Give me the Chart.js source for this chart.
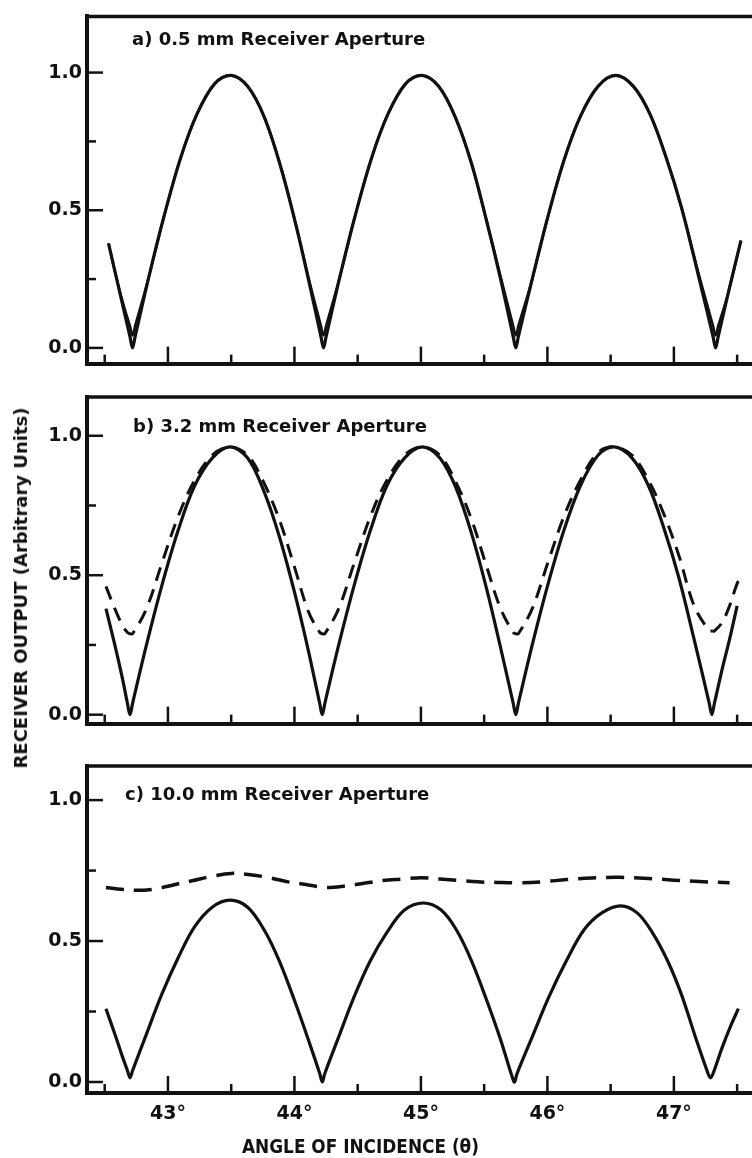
<!DOCTYPE html>
<html>
<head>
<meta charset="utf-8">
<title>Receiver output vs angle of incidence</title>
<script src="https://cdn.jsdelivr.net/npm/chart.js@4.4.1/dist/chart.umd.min.js"></script>
<style>
  html, body { margin: 0; padding: 0; background: #fff; overflow: hidden; }
  #page {
    position: relative; width: 752px; height: 1158px; overflow: hidden;
    font-family: 'DejaVu Sans', sans-serif; font-weight: bold; color: #111;
  }
  #page canvas { position: absolute; left: 0; }
  .caption { position: absolute; font-size: 18px; line-height: 18px; white-space: nowrap; }
  #ytitle {
    position: absolute; left: 21px; top: 588px; font-size: 18px; line-height: 18px;
    white-space: nowrap; transform: translate(-50%, -50%) rotate(-90deg);
  }
  #xtitle {
    position: absolute; left: 242px; top: 1137px; font-size: 19px; line-height: 19px;
    white-space: nowrap; transform: scaleX(0.89); transform-origin: left center;
  }
</style>
</head>
<body>
<div id="page">
  <canvas id="panelA" width="770" height="380" style="top:0px"></canvas>
  <canvas id="panelB" width="770" height="360" style="top:380px"></canvas>
  <canvas id="panelC" width="770" height="418" style="top:740px"></canvas>
  <div class="caption" style="left:132px; top:30px">a) 0.5 mm Receiver Aperture</div>
  <div class="caption" style="left:133px; top:417px">b) 3.2 mm Receiver Aperture</div>
  <div class="caption" style="left:125px; top:785px">c) 10.0 mm Receiver Aperture</div>
  <div id="ytitle">RECEIVER OUTPUT (Arbitrary Units)</div>
  <div id="xtitle">ANGLE OF INCIDENCE (θ)</div>
</div>

<script>
const INK = "#111";

// angle axis, degrees
const angleMin = 42.36;
const angleMax = 47.665;
const angleTicks = [43, 44, 45, 46, 47];
const angleMinorTicks = [42.5, 43.5, 44.5, 45.5, 46.5, 47.5];

// output axis
const outputTicks = [0, 0.5, 1.0];
const outputMinorTicks = [0.25, 0.75];

// a) 0.5 mm aperture
const angleA = [
  42.53, 42.60, 42.66, 42.70, 42.72,
  42.74, 42.85, 42.97, 43.10, 43.23, 43.37, 43.50, 43.63, 43.76, 43.89, 44.01, 44.12, 44.21, 44.23,
  44.25, 44.36, 44.48, 44.61, 44.74, 44.88, 45.01, 45.14, 45.27, 45.40, 45.52, 45.63, 45.73, 45.75,
  45.77, 45.88, 46.00, 46.13, 46.26, 46.40, 46.54, 46.68, 46.81, 46.94, 47.06, 47.19, 47.31, 47.33,
  47.35, 47.43, 47.53
];
const outputA = [
  0.38, 0.24, 0.12, 0.04, 0.00,
  0.04, 0.26, 0.48, 0.69, 0.85, 0.96, 0.99, 0.95, 0.84, 0.66, 0.45, 0.23, 0.04, 0.00,
  0.04, 0.26, 0.48, 0.69, 0.85, 0.96, 0.99, 0.95, 0.84, 0.67, 0.46, 0.25, 0.04, 0.00,
  0.04, 0.25, 0.47, 0.68, 0.84, 0.95, 0.99, 0.95, 0.85, 0.69, 0.51, 0.27, 0.04, 0.00,
  0.04, 0.20, 0.39
];
// second curve, lies on the first except at the minima
const outputA2 = [
  0.38, 0.24, 0.14, 0.08, 0.045,
  0.08, 0.26, 0.48, 0.69, 0.85, 0.96, 0.99, 0.95, 0.84, 0.66, 0.45, 0.24, 0.08, 0.045,
  0.08, 0.26, 0.48, 0.69, 0.85, 0.96, 0.99, 0.95, 0.84, 0.67, 0.46, 0.26, 0.08, 0.045,
  0.08, 0.25, 0.47, 0.68, 0.84, 0.95, 0.99, 0.95, 0.85, 0.69, 0.51, 0.28, 0.08, 0.045,
  0.08, 0.20, 0.39
];

// b) 3.2 mm aperture
const angleB = [
  42.51, 42.58, 42.64, 42.68, 42.70,
  42.72, 42.83, 42.95, 43.08, 43.21, 43.35, 43.49, 43.63, 43.76, 43.88, 44.00, 44.11, 44.20, 44.22,
  44.24, 44.35, 44.47, 44.60, 44.73, 44.87, 45.01, 45.15, 45.28, 45.40, 45.52, 45.63, 45.73, 45.75,
  45.77, 45.88, 46.00, 46.13, 46.26, 46.40, 46.53, 46.67, 46.80, 46.92, 47.04, 47.16, 47.28, 47.30,
  47.32, 47.38, 47.44, 47.50, 47.53
];
const outputBSolid = [
  0.38, 0.25, 0.13, 0.04, 0.00,
  0.04, 0.25, 0.46, 0.66, 0.82, 0.92, 0.96, 0.92, 0.80, 0.64, 0.44, 0.23, 0.04, 0.00,
  0.04, 0.25, 0.46, 0.66, 0.82, 0.92, 0.96, 0.92, 0.81, 0.65, 0.45, 0.24, 0.04, 0.00,
  0.04, 0.25, 0.46, 0.66, 0.82, 0.93, 0.96, 0.92, 0.82, 0.67, 0.49, 0.27, 0.04, 0.00,
  0.04, 0.16, 0.27, 0.39, null
];
const outputBDashed = [
  0.46, 0.38, 0.32, 0.295, 0.29,
  0.29, 0.38, 0.54, 0.71, 0.84, 0.93, 0.96, 0.93, 0.83, 0.70, 0.53, 0.37, 0.295, 0.29,
  0.29, 0.38, 0.54, 0.71, 0.84, 0.93, 0.96, 0.93, 0.83, 0.70, 0.53, 0.38, 0.295, 0.29,
  0.29, 0.38, 0.54, 0.71, 0.84, 0.94, 0.96, 0.93, 0.84, 0.72, 0.57, 0.39, 0.30, 0.30,
  0.30, 0.33, 0.39, 0.47, 0.49
];

// c) 10.0 mm aperture
const angleC = [
  42.51, 42.58, 42.64, 42.68, 42.70,
  42.72, 42.83, 42.95, 43.08, 43.21, 43.35, 43.49, 43.63, 43.76, 43.88, 44.00, 44.11, 44.20, 44.22,
  44.24, 44.35, 44.47, 44.60, 44.73, 44.87, 45.02, 45.16, 45.28, 45.40, 45.52, 45.63, 45.72, 45.74,
  45.76, 45.88, 46.01, 46.15, 46.29, 46.43, 46.58, 46.71, 46.83, 46.95, 47.06, 47.17, 47.27, 47.29,
  47.31, 47.38, 47.45, 47.51
];
const outputCSolid = [
  0.26, 0.17, 0.09, 0.04, 0.015,
  0.04, 0.17, 0.31, 0.44, 0.55, 0.62, 0.645, 0.62, 0.54, 0.43, 0.29, 0.15, 0.03, 0.00,
  0.03, 0.16, 0.30, 0.43, 0.53, 0.61, 0.635, 0.61, 0.54, 0.43, 0.29, 0.15, 0.02, 0.00,
  0.03, 0.16, 0.30, 0.43, 0.54, 0.60, 0.625, 0.60, 0.53, 0.43, 0.31, 0.16, 0.03, 0.015,
  0.03, 0.12, 0.20, 0.26
];
const angleCDashed = [
  42.51, 42.60, 42.75, 42.90, 43.05, 43.20, 43.35, 43.50, 43.65, 43.80, 43.95, 44.10,
  44.25, 44.40, 44.55, 44.70, 44.85, 45.00, 45.15, 45.30, 45.45, 45.60, 45.77, 45.95,
  46.15, 46.35, 46.57, 46.80, 47.00, 47.20, 47.44
];
const outputCDashed = [
  0.69, 0.685, 0.68, 0.685, 0.70, 0.715, 0.73, 0.74, 0.735, 0.725, 0.71, 0.70,
  0.69, 0.695, 0.705, 0.715, 0.72, 0.725, 0.72, 0.715, 0.71, 0.708, 0.707, 0.71,
  0.718, 0.724, 0.726, 0.722, 0.716, 0.711, 0.707
];

const tickFont = { family: "'DejaVu Sans', sans-serif", size: 19, weight: "bold" };

function toPoints(xs, ys) {
  return xs.map((x, i) => ({ x, y: ys[i] }));
}

function curve(xs, ys, dash, width) {
  return {
    data: toPoints(xs, ys),
    borderColor: INK,
    borderWidth: width || 3.2,
    borderDash: dash || [],
    borderCapStyle: "butt",
    borderJoinStyle: "round",
    tension: 0.35,
    pointRadius: 0,
    fill: false,
    spanGaps: false
  };
}

// top edge of each box plus the inward-pointing tick marks
const frameTicks = {
  id: "frameTicks",
  afterDraw(chart) {
    const { ctx, chartArea, scales } = chart;
    const { left, right, top, bottom } = chartArea;
    const line = (x1, y1, x2, y2) => {
      ctx.beginPath();
      ctx.moveTo(x1, y1);
      ctx.lineTo(x2, y2);
      ctx.stroke();
    };
    ctx.save();
    ctx.strokeStyle = INK;
    ctx.lineWidth = 3.5;
    line(left - 2, top, right + 4, top);

    ctx.lineWidth = 2.5;
    angleTicks.forEach(v => {
      const px = scales.x.getPixelForValue(v);
      line(px, bottom, px, bottom - 17);
    });
    angleMinorTicks.forEach(v => {
      const px = scales.x.getPixelForValue(v);
      line(px, bottom, px, bottom - 9);
    });
    outputTicks.forEach(v => {
      const py = scales.y.getPixelForValue(v);
      line(left, py, left + 16, py);
    });
    outputMinorTicks.forEach(v => {
      const py = scales.y.getPixelForValue(v);
      line(left, py, left + 9, py);
    });
    ctx.restore();
  }
};

function drawPanel(canvasId, datasets, box) {
  new Chart(document.getElementById(canvasId), {
    type: "line",
    data: { datasets },
    options: {
      responsive: false,
      animation: false,
      events: [],
      layout: { autoPadding: false, padding: { top: box.padTop, right: 12, bottom: 0, left: 0 } },
      plugins: { legend: { display: false }, tooltip: { enabled: false } },
      scales: {
        x: {
          type: "linear",
          min: angleMin,
          max: angleMax,
          afterBuildTicks: s => { s.ticks = angleTicks.map(value => ({ value })); },
          afterFit: s => { s.height = box.xHeight; },
          ticks: {
            display: box.showAngles,
            autoSkip: false,
            maxRotation: 0,
            padding: 10,
            color: INK,
            font: tickFont,
            callback: v => v + "°"
          },
          grid: { display: false, drawTicks: false },
          border: { display: true, width: 4, color: INK }
        },
        y: {
          type: "linear",
          min: box.yMin,
          max: box.yMax,
          afterBuildTicks: s => { s.ticks = outputTicks.map(value => ({ value })); },
          afterFit: s => { s.width = 87; },
          ticks: {
            padding: 5,
            color: INK,
            font: tickFont,
            callback: v => v.toFixed(1)
          },
          grid: { display: false, drawTicks: false },
          border: { display: true, width: 4, color: INK }
        }
      }
    },
    plugins: [frameTicks]
  });
}

drawPanel("panelA", [
  curve(angleA, outputA2, [], 2.4),
  curve(angleA, outputA)
], { padTop: 12, xHeight: 15, yMin: -0.057, yMax: 1.204, showAngles: false });

drawPanel("panelB", [
  curve(angleB, outputBSolid),
  curve(angleB, outputBDashed, [14, 9], 3)
], { padTop: 17, xHeight: 15, yMin: -0.032, yMax: 1.139, showAngles: false });

drawPanel("panelC", [
  curve(angleC, outputCSolid),
  curve(angleCDashed, outputCDashed, [18, 10], 3.5)
], { padTop: 26, xHeight: 65, yMin: -0.039, yMax: 1.121, showAngles: true });
</script>
</body>
</html>
